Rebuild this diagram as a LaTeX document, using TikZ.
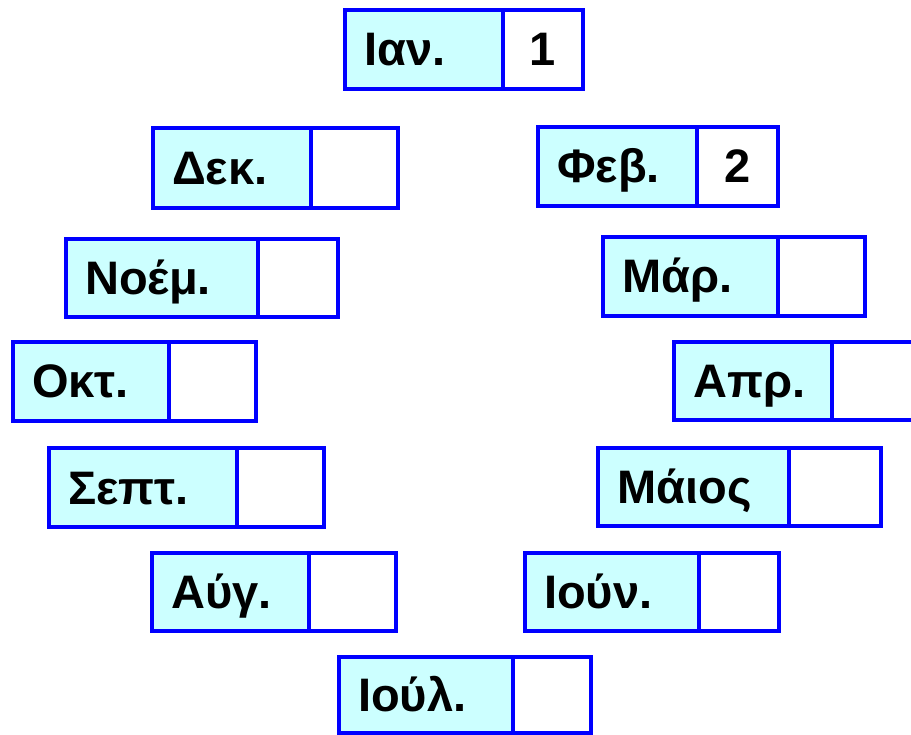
\documentclass[tikz,border=0pt]{standalone}
\usepackage{fontspec}
\setmainfont{Liberation Sans}
\definecolor{cellfill}{HTML}{CCFFFF}
\definecolor{cellline}{HTML}{0000FF}
\tikzset{
  namebox/.style={rectangle, draw=cellline, fill=cellfill, line width=4pt, inner sep=0pt, anchor=north west},
  valbox/.style={rectangle, draw=cellline, fill=white, line width=4pt, inner sep=0pt, anchor=north west,
    font=\fontsize{47}{52}\selectfont\bfseries},
  lbl/.style={inner sep=0pt, anchor=base west, font=\fontsize{47}{52}\selectfont\bfseries}
}
% #1 name, #2 left, #3 top, #4 divider, #5 right, #6 bottom, #7 label, #8 value
\newcommand\mpair[8]{%
  \node[namebox, minimum width=#4-#2, minimum height=#6-#3] (#1) at (#2-1,#3-1) {};
  \node[valbox, minimum width=#5-#4, minimum height=#6-#3] (#1v) at (#4-1,#3-1) {#8};
  \node[lbl] (#1t) at ([xshift=21pt,yshift=-16.5pt]#1.west) {#7};
}
\begin{document}
\begin{tikzpicture}[x=1pt,y=-1pt]
\useasboundingbox (0,0) rectangle (911,735);
\clip (0,0) rectangle (911,735);
\mpair{jan}{344}{9}{502}{582}{88}{Ιαν.}{1}
\mpair{dec}{152}{127}{310}{397}{207}{Δεκ.}{}
\mpair{feb}{537}{126}{696}{777}{205}{Φεβ.}{2}
\mpair{nov}{65}{238}{257}{337}{316}{Νοέμ.}{}
\mpair{mar}{602}{236}{777}{864}{315}{Μάρ.}{}
\mpair{oct}{12}{341}{168}{255}{420}{Οκτ.}{}
\mpair{apr}{673}{341}{831}{918}{419}{Απρ.}{}
\mpair{sep}{48}{447}{236}{323}{526}{Σεπτ.}{}
\mpair{may}{597}{447}{788}{880}{525}{Μάιος}{}
\mpair{aug}{151}{552}{308}{395}{630}{Αύγ.}{}
\mpair{jun}{524}{552}{698}{778}{630}{Ιούν.}{}
\mpair{jul}{338}{656}{512}{590}{732}{Ιούλ.}{}
\end{tikzpicture}
\end{document}
